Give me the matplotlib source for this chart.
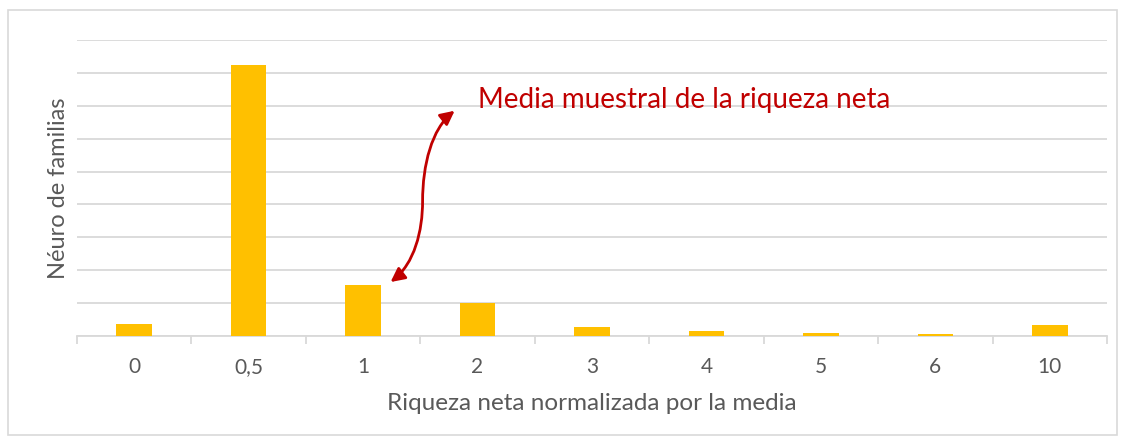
import matplotlib.pyplot as plt
from matplotlib.patches import FancyArrowPatch, Rectangle
from matplotlib.path import Path

categorias = ['0', '0,5', '1', '2', '3', '4', '5', '6', '10']
familias = [0.36, 8.24, 1.55, 1.0, 0.27, 0.15, 0.09, 0.05, 0.33]

plt.rcParams['font.family'] = ['Lato', 'DejaVu Sans']

fig = plt.figure(figsize=(11.25, 4.45), dpi=100)
ax = fig.add_axes([0.0684, 0.245, 0.9156, 0.665])

x = range(len(categorias))
ax.bar(x, familias, width=0.31, color='#FFC000', zorder=3)

ax.set_xlim(-0.5, len(categorias) - 0.5)
ax.set_ylim(0, 9)
ax.set_yticks(range(0, 10))
ax.set_yticklabels([])
ax.tick_params(axis='y', length=0)
ax.grid(axis='y', color='#d9d9d9', linewidth=1.3, zorder=0)

ax.set_xticks(x)
ax.set_xticklabels(categorias, fontsize=15, color='#595959')
ax.set_xticks([i - 0.5 for i in range(len(categorias) + 1)], minor=True)
ax.tick_params(axis='x', which='major', length=0, pad=15)
ax.tick_params(axis='x', which='minor', length=6, color='#d9d9d9', width=1.3)

for s in ['top', 'right', 'left']:
    ax.spines[s].set_visible(False)
ax.spines['bottom'].set_color('#d9d9d9')
ax.spines['bottom'].set_linewidth(1.3)

ax.set_xlabel('Riqueza neta normalizada por la media', fontsize=17.5, color='#595959', labelpad=12)
ax.set_ylabel('Néuro de familias', fontsize=17, color='#595959', labelpad=2)

# flecha curva de doble punta
verts = [(2.24, 1.64), (2.45, 2.2), (2.52, 3.2), (2.52, 4.1),
         (2.52, 5.2), (2.6, 6.3), (2.80, 6.85)]
codes = [Path.MOVETO] + [Path.CURVE4] * 6
arrow = FancyArrowPatch(path=Path(verts, codes), arrowstyle='<|-|>', mutation_scale=21,
                        color='#C00000', linewidth=2, zorder=4)
ax.add_patch(arrow)
ax.text(3.0, 7.18, 'Media muestral de la riqueza neta', fontsize=20, color='#C00000',
        va='center', ha='left')

fig.patches.append(Rectangle((8 / 1125, 10 / 445), 1109 / 1125, 425 / 445, transform=fig.transFigure,
                             fill=False, edgecolor='#d9d9d9', linewidth=1.2))

fig.savefig('out.png', dpi=100)
